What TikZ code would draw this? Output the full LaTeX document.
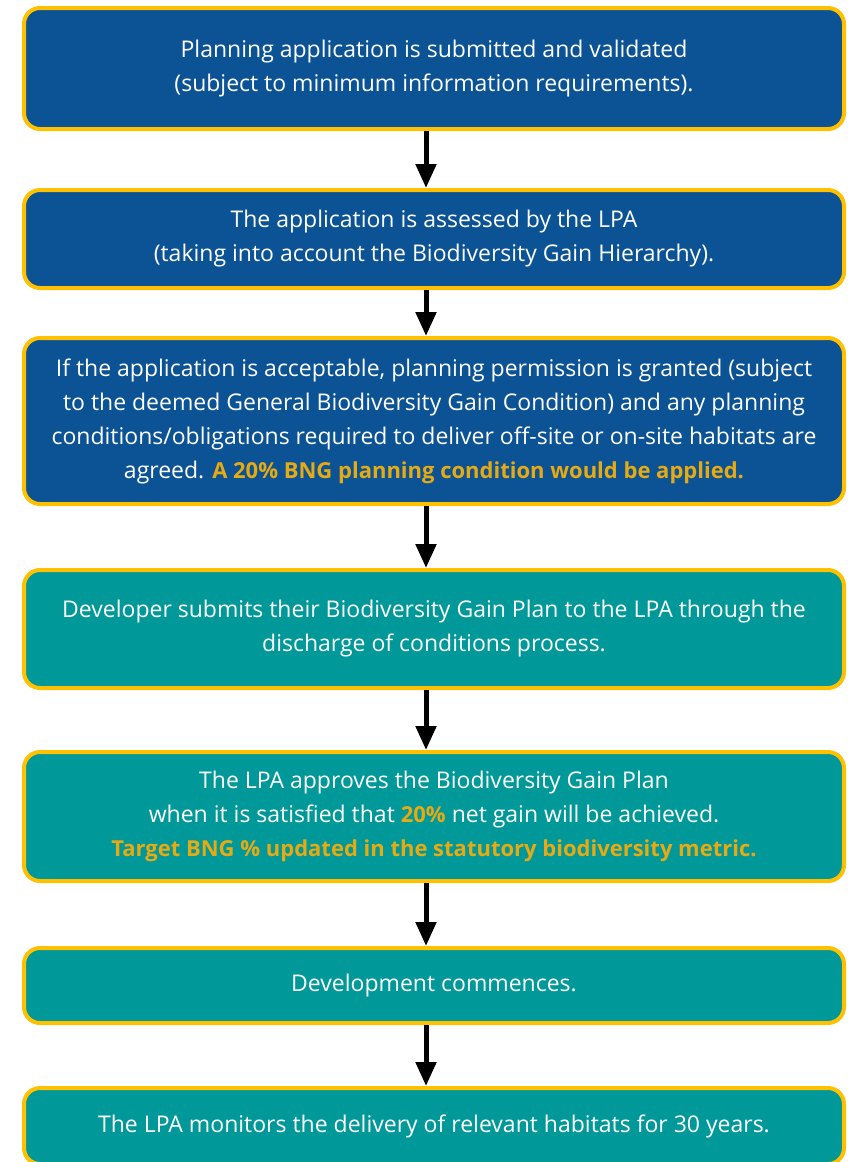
\documentclass[tikz,border=0pt]{standalone}
\usepackage{fontspec}
\setmainfont{Open Sans}
\usetikzlibrary{arrows.meta}
\usetikzlibrary{positioning}
\usepackage{xcolor}
\definecolor{lpablue}{RGB}{11,83,148}
\definecolor{lpateal}{RGB}{0,152,153}
\definecolor{lpagold}{RGB}{255,192,0}
\definecolor{lpanote}{RGB}{230,170,20}
\newcommand{\hilite}[1]{{\fontsize{22}{34}\bfseries\color{lpanote}#1}}

\begin{document}
\begin{tikzpicture}[
    x=1pt, y=1pt,
    stage/.style={rectangle, rounded corners=16pt, draw=lpagold, line width=4pt,
      text=white, align=center, minimum width=820pt,
      font=\fontsize{23}{34}\selectfont},
    early/.style={stage, fill=lpablue},
    late/.style={stage, fill=lpateal},
    flow/.style={-{Triangle[width=20pt,length=24pt]}, line width=5pt, black}
    ]
    \useasboundingbox (0,0) rectangle (848,-1162);

    \node[early, minimum height=121pt] (submit) at (434,-68.5)
      {Planning application is submitted and validated\\
       (subject to minimum information requirements).};
    \node[early, minimum height=98pt] (assess) [below=57pt of submit]
      {The application is assessed by the LPA\\
       (taking into account the Biodiversity Gain Hierarchy).};
    \node[early, minimum height=166pt] (grant) [below=46pt of assess]
      {If the application is acceptable, planning permission is granted (subject\\
       to the deemed General Biodiversity Gain Condition) and any planning\\
       conditions/obligations required to deliver off-site or on-site habitats are\\
       agreed. \hilite{A 20\% BNG planning condition would be applied.}};
    \node[late, minimum height=118pt] (gainplan) [below=62pt of grant]
      {Developer submits their Biodiversity Gain Plan to the LPA through the\\
       discharge of conditions process.};
    \node[late, minimum height=129pt] (approve) [below=60pt of gainplan]
      {The LPA approves the Biodiversity Gain Plan\\
       when it is satisfied that \hilite{20\%} net gain will be achieved.\\
       \hilite{Target BNG \% updated in the statutory biodiversity metric.}};
    \node[late, minimum height=75pt] (commence) [below=63pt of approve]
      {Development commences.};
    \node[late, minimum height=76pt] (monitor) [below=61pt of commence]
      {The LPA monitors the delivery of relevant habitats for 30 years.};

    \draw[flow] ([xshift=-8pt]submit.south) -- ([xshift=-8pt]assess.north);
    \draw[flow] ([xshift=-8pt]assess.south) -- ([xshift=-8pt]grant.north);
    \draw[flow] ([xshift=-8pt]grant.south) -- ([xshift=-8pt]gainplan.north);
    \draw[flow] ([xshift=-8pt]gainplan.south) -- ([xshift=-8pt]approve.north);
    \draw[flow] ([xshift=-8pt]approve.south) -- ([xshift=-8pt]commence.north);
    \draw[flow] ([xshift=-8pt]commence.south) -- ([xshift=-8pt]monitor.north);

  \end{tikzpicture}
\end{document}
